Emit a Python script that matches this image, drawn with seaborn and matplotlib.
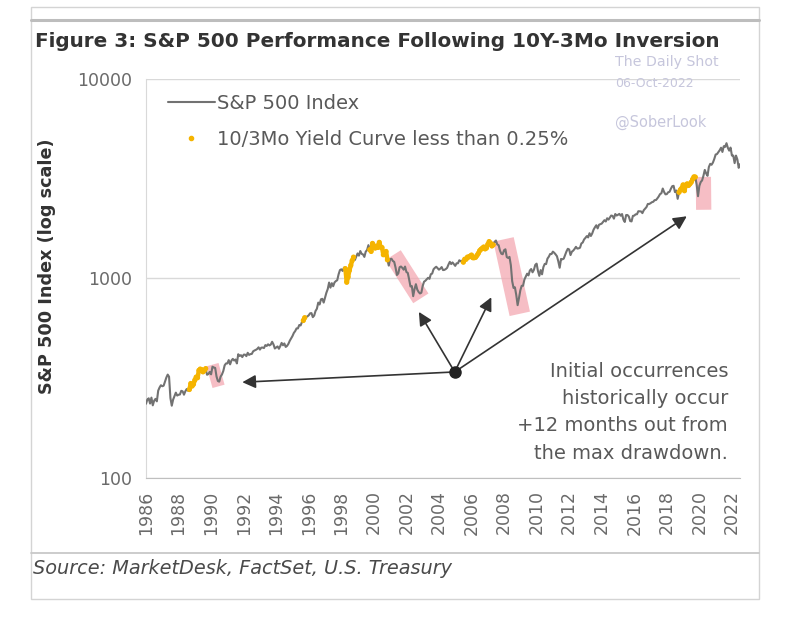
import numpy as np
import pandas as pd
import seaborn as sns
import matplotlib.pyplot as plt
from matplotlib.lines import Line2D
from matplotlib.patches import Rectangle

# S&P 500 month-end closes, Apr 1986 .. Oct 2022
sp500_close = [
    235.5, 247.4, 250.8, 236.1, 252.9, 231.3, 244.0, 249.2, 242.2,  # 1986 (Apr-Dec)
    274.1, 284.2, 291.7, 288.4, 290.1, 304.0, 318.7, 329.8, 321.8, 251.8, 230.3, 247.1,  # 1987
    257.1, 267.8, 258.9, 261.3, 262.2, 273.5, 272.0, 261.5, 271.9, 279.0, 273.7, 277.7,  # 1988
    297.5, 288.9, 294.9, 309.6, 320.5, 318.0, 346.1, 351.5, 349.2, 340.4, 346.0, 353.4,  # 1989
    329.1, 331.9, 339.9, 330.8, 361.2, 358.0, 356.2, 322.6, 306.1, 304.0, 322.2, 330.2,  # 1990
    343.9, 367.1, 375.2, 375.3, 389.8, 371.2, 387.8, 395.4, 387.9, 392.5, 375.2, 417.1,  # 1991
    408.8, 412.7, 403.7, 415.0, 415.4, 408.1, 424.2, 414.0, 417.8, 418.7, 431.4, 435.7,  # 1992
    438.8, 443.4, 451.7, 440.2, 450.2, 450.5, 448.1, 463.6, 458.9, 467.8, 461.8, 466.5,  # 1993
    481.6, 467.1, 445.8, 450.9, 456.5, 444.3, 458.3, 475.5, 462.7, 472.4, 453.7, 459.3,  # 1994
    470.4, 487.4, 500.7, 514.7, 533.4, 544.8, 562.1, 561.9, 584.4, 581.5, 605.4, 615.9,  # 1995
    636.0, 640.4, 645.5, 654.2, 669.1, 670.6, 640.0, 652.0, 687.3, 705.3, 757.0, 740.7,  # 1996
    786.2, 790.8, 757.1, 801.3, 848.3, 885.1, 954.3, 899.5, 947.3, 914.6, 955.4, 970.4,  # 1997
    980.3, 1049.3, 1101.8, 1111.8, 1090.8, 1133.8, 1120.7, 957.3, 1017.0, 1098.7, 1163.6, 1229.2,  # 1998
    1279.6, 1238.3, 1286.4, 1335.2, 1301.8, 1372.7, 1328.7, 1320.4, 1282.7, 1362.9, 1388.9, 1469.3,  # 1999
    1394.5, 1366.4, 1498.6, 1452.4, 1420.6, 1454.6, 1430.8, 1517.7, 1436.5, 1429.4, 1315.2, 1320.3,  # 2000
    1366.0, 1239.9, 1160.3, 1249.5, 1255.8, 1224.4, 1211.2, 1133.6, 1040.9, 1059.8, 1139.5, 1148.1,  # 2001
    1130.2, 1106.7, 1147.4, 1076.9, 1067.1, 989.8, 911.6, 916.1, 815.3, 885.8, 936.3, 879.8,  # 2002
    855.7, 841.2, 848.2, 916.9, 963.6, 974.5, 990.3, 1008.0, 996.0, 1050.7, 1058.2, 1111.9,  # 2003
    1131.1, 1144.9, 1126.2, 1107.3, 1120.7, 1140.8, 1101.7, 1104.2, 1114.6, 1130.2, 1173.8, 1211.9,  # 2004
    1181.3, 1203.6, 1180.6, 1156.9, 1191.5, 1191.3, 1234.2, 1220.3, 1228.8, 1207.0, 1249.5, 1248.3,  # 2005
    1280.1, 1280.7, 1294.8, 1310.6, 1270.1, 1270.2, 1276.7, 1303.8, 1335.9, 1377.9, 1400.6, 1418.3,  # 2006
    1438.2, 1406.8, 1420.9, 1482.4, 1530.6, 1503.4, 1455.3, 1474.0, 1526.8, 1549.4, 1481.1, 1468.4,  # 2007
    1378.6, 1330.6, 1322.7, 1385.6, 1400.4, 1280.0, 1267.4, 1282.8, 1166.4, 968.8, 896.2, 903.3,  # 2008
    825.9, 735.1, 797.9, 872.8, 919.1, 919.3, 987.5, 1020.6, 1057.1, 1036.2, 1095.6, 1115.1,  # 2009
    1073.9, 1104.5, 1169.4, 1186.7, 1089.4, 1030.7, 1101.6, 1049.3, 1141.2, 1183.3, 1180.6, 1257.6,  # 2010
    1286.1, 1327.2, 1325.8, 1363.6, 1345.2, 1320.6, 1292.3, 1218.9, 1131.4, 1253.3, 1247.0, 1257.6,  # 2011
    1312.4, 1365.7, 1408.5, 1397.9, 1310.3, 1362.2, 1379.3, 1406.6, 1440.7, 1412.2, 1416.2, 1426.2,  # 2012
    1498.1, 1514.7, 1569.2, 1597.6, 1630.7, 1606.3, 1685.7, 1633.0, 1681.6, 1756.5, 1805.8, 1848.4,  # 2013
    1782.6, 1859.5, 1872.3, 1884.0, 1923.6, 1960.2, 1930.7, 2003.4, 1972.3, 2018.1, 2067.6, 2058.9,  # 2014
    1995.0, 2104.5, 2067.9, 2085.5, 2107.4, 2063.1, 2103.8, 1972.2, 1920.0, 2079.4, 2080.4, 2043.9,  # 2015
    1940.2, 1932.2, 2059.7, 2065.3, 2097.0, 2098.9, 2173.6, 2171.0, 2168.3, 2126.2, 2199.0, 2238.8,  # 2016
    2278.9, 2363.6, 2362.7, 2384.2, 2411.8, 2423.4, 2470.3, 2471.7, 2519.4, 2575.3, 2647.6, 2673.6,  # 2017
    2823.8, 2713.8, 2640.9, 2648.1, 2705.3, 2718.4, 2816.3, 2901.5, 2914.0, 2711.7, 2760.2, 2506.9,  # 2018
    2704.1, 2784.5, 2834.4, 2945.8, 2752.1, 2941.8, 2980.4, 2926.5, 2976.7, 3037.6, 3141.0, 3230.8,  # 2019
    3225.5, 2954.2, 2584.6, 2912.4, 3044.3, 3100.3, 3271.1, 3500.3, 3363.0, 3270.0, 3621.6, 3756.1,  # 2020
    3714.2, 3811.2, 3972.9, 4181.2, 4204.1, 4297.5, 4395.3, 4522.7, 4307.5, 4605.4, 4567.0, 4766.2,  # 2021
    4515.6, 4373.9, 4530.4, 4131.9, 4132.2, 3785.4, 4130.3, 3955.0, 3585.6, 3744.5,  # 2022 (Jan-Oct)
]
first_month = (1986, 4)

# months where the 10Y-3M spread sat below 0.25%
low_spread_periods = [
    ("1988-12", "1989-12"),
    ("1995-12", "1996-01"),
    ("1998-07", "1999-01"),
    ("2000-01", "2001-02"),
    ("2005-10", "2007-08"),
    ("2019-01", "2020-01"),
]

# drawdown highlight boxes: (start year, start level, end year, end level)
drawdown_boxes = [
    (1990.42, 370, 1990.79, 288),
    (2001.52, 1310, 2003.22, 795),
    (2008.30, 1570, 2009.30, 665),
    (2020.58, 3230, 2020.60, 2210),
]
box_widths = [9, 13, 15, 11]

# arrows from the note dot to each drawdown
note_dot = (2005.30, 340)
arrow_targets = [(1992.25, 302), (2003.10, 680), (2007.55, 805), (2019.56, 2050)]

year_ticks = list(range(1986, 2023, 2))

months = pd.period_range(f"{first_month[0]}-{first_month[1]:02d}", periods=len(sp500_close), freq="M")
df = pd.DataFrame({"month": months, "close": sp500_close})
df["t"] = df["month"].dt.year + df["month"].dt.month / 12.0
df["segment"] = -1
for i, (start, end) in enumerate(low_spread_periods):
    df.loc[(df["month"] >= pd.Period(start, "M")) & (df["month"] <= pd.Period(end, "M")), "segment"] = i
low = df[df["segment"] >= 0]

sns.set_style("white")
plt.rcParams["font.family"] = ["DejaVu Sans"]

fig = plt.figure(figsize=(8, 6.17), dpi=100)
ax = fig.add_axes([0.1825, 0.2253, 0.7425, 0.6467])

GRAY_LINE = "#727272"
YELLOW = "#f5b400"
PINK = "#f3a3ad"
TEXT = "#595959"

for (x0, y0, x1, y1), w in zip(drawdown_boxes, box_widths):
    ax.plot([x0, x1], [y0, y1], color=PINK, lw=w, alpha=0.7, solid_capstyle="butt", zorder=1)

sns.lineplot(data=df, x="t", y="close", ax=ax, color=GRAY_LINE, lw=1.5, zorder=3)
sns.lineplot(data=low, x="t", y="close", units="segment", estimator=None, ax=ax,
             color=YELLOW, lw=3.2, zorder=4)
sns.scatterplot(data=low, x="t", y="close", ax=ax, color=YELLOW,
                s=14, edgecolor="none", zorder=4)

for tx, ty in arrow_targets:
    ax.annotate("", xy=(tx, ty), xytext=note_dot,
                arrowprops=dict(arrowstyle="-|>", color="#333333", lw=1.2,
                                mutation_scale=20, shrinkA=0, shrinkB=0), zorder=5)
ax.plot(*note_dot, "o", ms=8, color="#222222", zorder=6)

ax.set_yscale("log")
ax.set_ylim(100, 10000)
ax.set_xlim(df["t"].iloc[0], 2022.83)
ax.set_yticks([100, 1000, 10000])
ax.set_yticklabels(["100", "1000", "10000"])
ax.yaxis.set_minor_locator(plt.NullLocator())
ax.set_xticks([y + first_month[1] / 12.0 for y in year_ticks])
ax.set_xticklabels([str(y) for y in year_ticks], rotation=90)
ax.tick_params(axis="x", colors="#bfbfbf", length=4, width=1, pad=5, labelcolor="#6a6a6a", labelsize=12.5)
ax.tick_params(axis="y", length=0, pad=10, labelcolor="#6a6a6a", labelsize=12.5)
ax.grid(axis="y", color="#d9d9d9", lw=1)
ax.set_axisbelow(True)
for side in ["top", "right"]:
    ax.spines[side].set_visible(False)
ax.spines["left"].set_color("#d9d9d9")
ax.spines["bottom"].set_color("#bfbfbf")
ax.set_xlabel("")
ax.set_ylabel("")

handles = [
    Line2D([], [], color=GRAY_LINE, lw=1.5),
    Line2D([], [], color=YELLOW, marker="o", ms=3, lw=0),
]
leg = ax.legend(handles, ["S&P 500 Index", "10/3Mo Yield Curve less than 0.25%"],
                loc="upper left", bbox_to_anchor=(0.037, 0.962), frameon=False,
                fontsize=14, handlelength=2.4, handletextpad=0.1, labelspacing=0.85,
                borderaxespad=0, borderpad=0)
for t in leg.get_texts():
    t.set_color(TEXT)

fig.text(0.91, 0.332, "Initial occurrences\nhistorically occur\n+12 months out from\nthe max drawdown.",
         ha="right", va="center", multialignment="right", fontsize=14, color=TEXT, linespacing=1.55)

fig.text(0.04375, 0.932, "Figure 3: S&P 500 Performance Following 10Y-3Mo Inversion",
         ha="left", va="center", fontsize=14.4, fontweight="bold", color="#333333")
fig.text(0.059, 0.569, "S&P 500 Index (log scale)", rotation=90, ha="center", va="center",
         fontsize=12.7, fontweight="bold", color="#333333")
fig.text(0.041, 0.0794, "Source: MarketDesk, FactSet, U.S. Treasury", ha="left", va="center",
         fontsize=13.9, style="italic", color="#4a4a4a")

# watermark
fig.text(0.769, 0.8995, "The Daily Shot", fontsize=10.2, color="#c6c6dc", va="center")
fig.text(0.769, 0.8639, "06-Oct-2022", fontsize=9, color="#c6c6dc", va="center")
fig.text(0.769, 0.8023, "@SoberLook", fontsize=10.5, color="#c6c6dc", va="center")

# panel frame
fig.add_artist(Rectangle((0.03875, 0.0292), 0.91, 0.9595, transform=fig.transFigure,
                         fill=False, edgecolor="#d4d4d4", lw=1))
fig.add_artist(Line2D([0.03875, 0.94875], [0.9676, 0.9676], transform=fig.transFigure,
                      color="#bdbdbd", lw=2.2))
fig.add_artist(Line2D([0.03875, 0.94875], [0.1037, 0.1037], transform=fig.transFigure,
                      color="#c8c8c8", lw=1.3))

fig.savefig("out.png", dpi=100)
